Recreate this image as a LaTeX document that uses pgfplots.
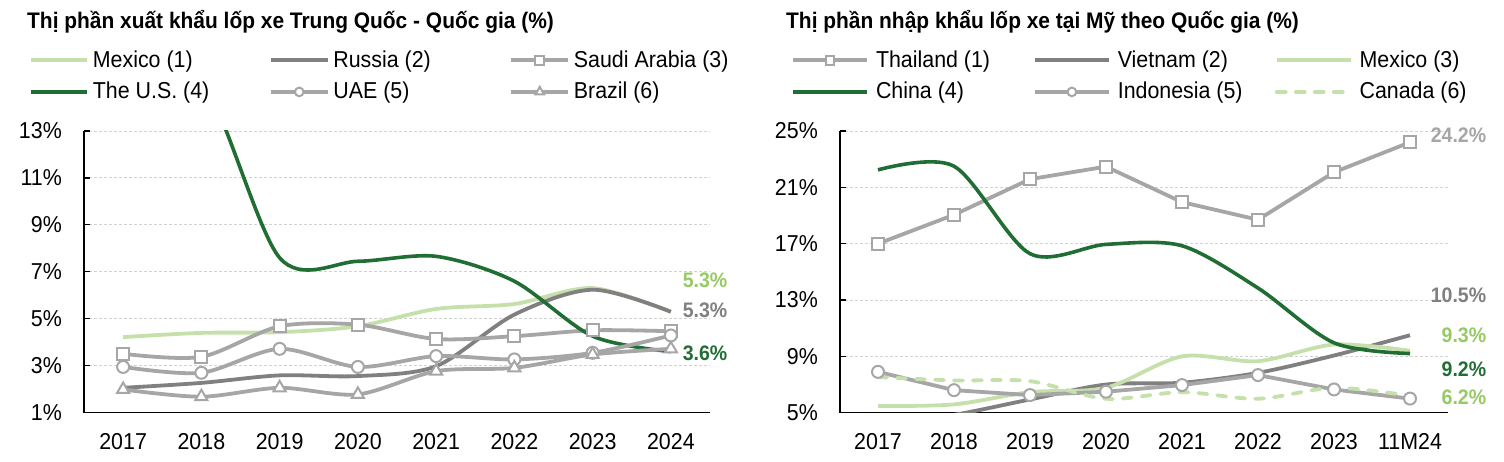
\documentclass[border=0pt]{standalone}
\usepackage{fontspec}
\setmainfont{Liberation Sans}[FakeStretch=0.93]
\usepackage{pgfplots}
\pgfplotsset{compat=1.18}

\definecolor{lgreen}{RGB}{197,224,170}
\definecolor{dgreen}{RGB}{33,110,52}
\definecolor{dgray}{RGB}{128,128,128}
\definecolor{lgray}{RGB}{166,166,166}
\definecolor{labgreen}{RGB}{150,202,100}
\definecolor{gridc}{RGB}{210,210,210}

\newcommand{\tfont}{\fontsize{23bp}{27bp}\selectfont}
\newcommand{\ttlfont}{\fontsize{22.5bp}{27bp}\selectfont\bfseries}
\newcommand{\labfont}{\fontsize{21bp}{25bp}\selectfont\bfseries}

\pgfplotsset{
  mychart/.style={
    scale only axis, height=281.7bp,
    xmin=-0.5, xmax=7.5, xtick={0,...,7},
    axis x line*=bottom, axis y line*=left,
    axis line style={black, line width=1.5bp, -},
    ymajorgrids, grid style={gridc, dash pattern=on 3bp off 2bp, line width=0.9bp},
    tick align=inside, major tick length=6bp,
    ytick style={black, line width=1.2bp}, xtick style={draw=none},
    tick label style={font=\tfont},
    yticklabel style={anchor=east, inner sep=0pt, xshift=-22bp},
    xticklabel style={anchor=north, inner sep=0pt, yshift=-20.6bp},
    legend columns=3, legend cell align=left,
    legend style={draw=none, fill=none, inner sep=0pt, column sep=0pt, row sep=8.7bp,
      font=\tfont,
      nodes={inner sep=0pt, text height=18.5bp, text depth=4.5bp, anchor=west},
      at={(axis description cs:0,1)}, anchor=north west},
  },
  lg/.style={lgreen, line width=3.8bp, smooth, no markers, solid},
  dg/.style={dgreen, line width=3.6bp, smooth, no markers, solid},
  rg/.style={dgray, line width=3.8bp, smooth, no markers, solid},
  gy/.style={lgray, line width=3.8bp, solid},
  msq/.style={mark=square*, mark size=6bp, mark options={fill=white, draw=lgray, line width=2bp, solid}},
  mci/.style={mark=*, mark size=6bp, mark options={fill=white, draw=lgray, line width=2bp, solid}},
  mtr/.style={mark=triangle*, mark size=7bp, mark options={fill=white, draw=lgray, line width=2bp, solid}},
}

\begin{document}
\begin{tikzpicture}
\path[use as bounding box] (0bp,0bp) rectangle (1504bp,462bp);

% titles
\node[anchor=base west, inner sep=0pt] at (27bp,433.7bp) {\ttlfont Thị phần xuất khẩu lốp xe Trung Quốc - Quốc gia (\%)};
\node[anchor=base west, inner sep=0pt] at (786bp,433.7bp) {\ttlfont Thị phần nhập khẩu lốp xe tại Mỹ theo Quốc gia (\%)};

% ---------------- left chart
\begin{axis}[mychart,
  at={(84bp,49.3bp)}, anchor=south west, width=626bp,
  ymin=1, ymax=13, ytick={1,3,5,7,9,11,13},
  yticklabels={1\%,3\%,5\%,7\%,9\%,11\%,13\%},
  xticklabels={2017,2018,2019,2020,2021,2022,2023,2024},
  legend style={xshift=-55.6bp, yshift=82.5bp},
  legend image code/.code={\draw[#1, every mark/.append style={scale=0.72}] plot[mark repeat=2, mark phase=2] coordinates {(0bp,0bp) (28.25bp,0bp) (56.5bp,0bp)};},
]
\addplot[lg] coordinates {(0,4.22)(1,4.40)(2,4.43)(3,4.68)(4,5.42)(5,5.63)(6,6.31)(7,5.30)};
\addlegendentry{\makebox[180.2bp][l]{\hspace{4bp}Mexico (1)}}
\addplot[rg] coordinates {(0,2.06)(1,2.27)(2,2.59)(3,2.56)(4,2.98)(5,5.18)(6,6.24)(7,5.30)};
\addlegendentry{\makebox[180.2bp][l]{\hspace{4bp}Russia (2)}}
\addplot[gy, smooth, msq] coordinates {(0,3.51)(1,3.38)(2,4.68)(3,4.75)(4,4.14)(5,4.26)(6,4.51)(7,4.47)};
\addlegendentry{\hspace{4bp}Saudi Arabia (3)}
\addplot[dg] coordinates {(0,15.5)(1,15.2)(2,7.60)(3,7.45)(4,7.66)(5,6.60)(6,4.26)(7,3.60)};
\addlegendentry{\makebox[180.2bp][l]{\hspace{4bp}The U.S. (4)}}
\addplot[gy, smooth, mci] coordinates {(0,2.95)(1,2.70)(2,3.72)(3,2.95)(4,3.41)(5,3.27)(6,3.55)(7,4.29)};
\addlegendentry{\makebox[180.2bp][l]{\hspace{4bp}UAE (5)}}
\addplot[gy, smooth, mtr] coordinates {(0,1.99)(1,1.68)(2,2.06)(3,1.78)(4,2.77)(5,2.91)(6,3.48)(7,3.72)};
\addlegendentry{\hspace{4bp}Brazil (6)}
\coordinate (LA) at (axis cs:7.15,6.65);
\coordinate (LB) at (axis cs:7.15,5.37);
\coordinate (LC) at (axis cs:7.15,3.54);
\end{axis}
\node[anchor=west, inner sep=0pt, text=labgreen] at (LA) {\labfont 5.3\%};
\node[anchor=west, inner sep=0pt, text=dgray] at (LB) {\labfont 5.3\%};
\node[anchor=west, inner sep=0pt, text=dgreen] at (LC) {\labfont 3.6\%};

% ---------------- right chart
\begin{axis}[mychart,
  at={(840bp,49.3bp)}, anchor=south west, width=608bp,
  ymin=5, ymax=25, ytick={5,9,13,17,21,25},
  yticklabels={5\%,9\%,13\%,17\%,21\%,25\%},
  xticklabels={2017,2018,2019,2020,2021,2022,2023,11M24},
  legend style={xshift=-49bp, yshift=82.5bp},
  legend image code/.code={\draw[#1, every mark/.append style={scale=0.72}] plot[mark repeat=2, mark phase=2] coordinates {(0bp,0bp) (37bp,0bp) (74bp,0bp)};},
]
\addplot[gy, sharp plot, msq] coordinates {(0,17.0)(1,19.05)(2,21.58)(3,22.47)(4,19.95)(5,18.7)(6,22.07)(7,24.2)};
\addlegendentry{\makebox[164bp][l]{\hspace{7bp}Thailand (1)}}
\addplot[rg] coordinates {(0,4.2)(1,4.85)(2,5.94)(3,7.0)(4,7.13)(5,7.83)(6,9.06)(7,10.5)};
\addlegendentry{\makebox[164bp][l]{\hspace{7bp}Vietnam (2)}}
\addplot[lg] coordinates {(0,5.47)(1,5.59)(2,6.46)(3,6.77)(4,9.0)(5,8.66)(6,9.84)(7,9.4)};
\addlegendentry{\hspace{7bp}Mexico (3)}
\addplot[dg] coordinates {(0,22.24)(1,22.5)(2,16.29)(3,16.95)(4,16.85)(5,13.85)(6,9.96)(7,9.2)};
\addlegendentry{\makebox[164bp][l]{\hspace{7bp}China (4)}}
\addplot[gy, sharp plot, mci] coordinates {(0,7.9)(1,6.6)(2,6.25)(3,6.49)(4,6.96)(5,7.67)(6,6.65)(7,6.0)};
\addlegendentry{\makebox[164bp][l]{\hspace{7bp}Indonesia (5)}}
\addplot[lg, line cap=round, dash pattern=on 9bp off 10bp] coordinates {(0,7.53)(1,7.29)(2,7.24)(3,5.99)(4,6.46)(5,5.99)(6,6.77)(7,6.2)};
\addlegendentry{\hspace{7bp}Canada (6)}
\coordinate (RA) at (axis cs:8.005,24.72);
\coordinate (RB) at (axis cs:8.005,13.36);
\coordinate (RC) at (axis cs:8.005,10.52);
\coordinate (RD) at (axis cs:8.005,8.10);
\coordinate (RE) at (axis cs:8.005,6.11);
\end{axis}
\node[anchor=east, inner sep=0pt, text=lgray] at (RA) {\labfont 24.2\%};
\node[anchor=east, inner sep=0pt, text=dgray] at (RB) {\labfont 10.5\%};
\node[anchor=east, inner sep=0pt, text=labgreen] at (RC) {\labfont 9.3\%};
\node[anchor=east, inner sep=0pt, text=dgreen] at (RD) {\labfont 9.2\%};
\node[anchor=east, inner sep=0pt, text=labgreen] at (RE) {\labfont 6.2\%};
\end{tikzpicture}
\end{document}
